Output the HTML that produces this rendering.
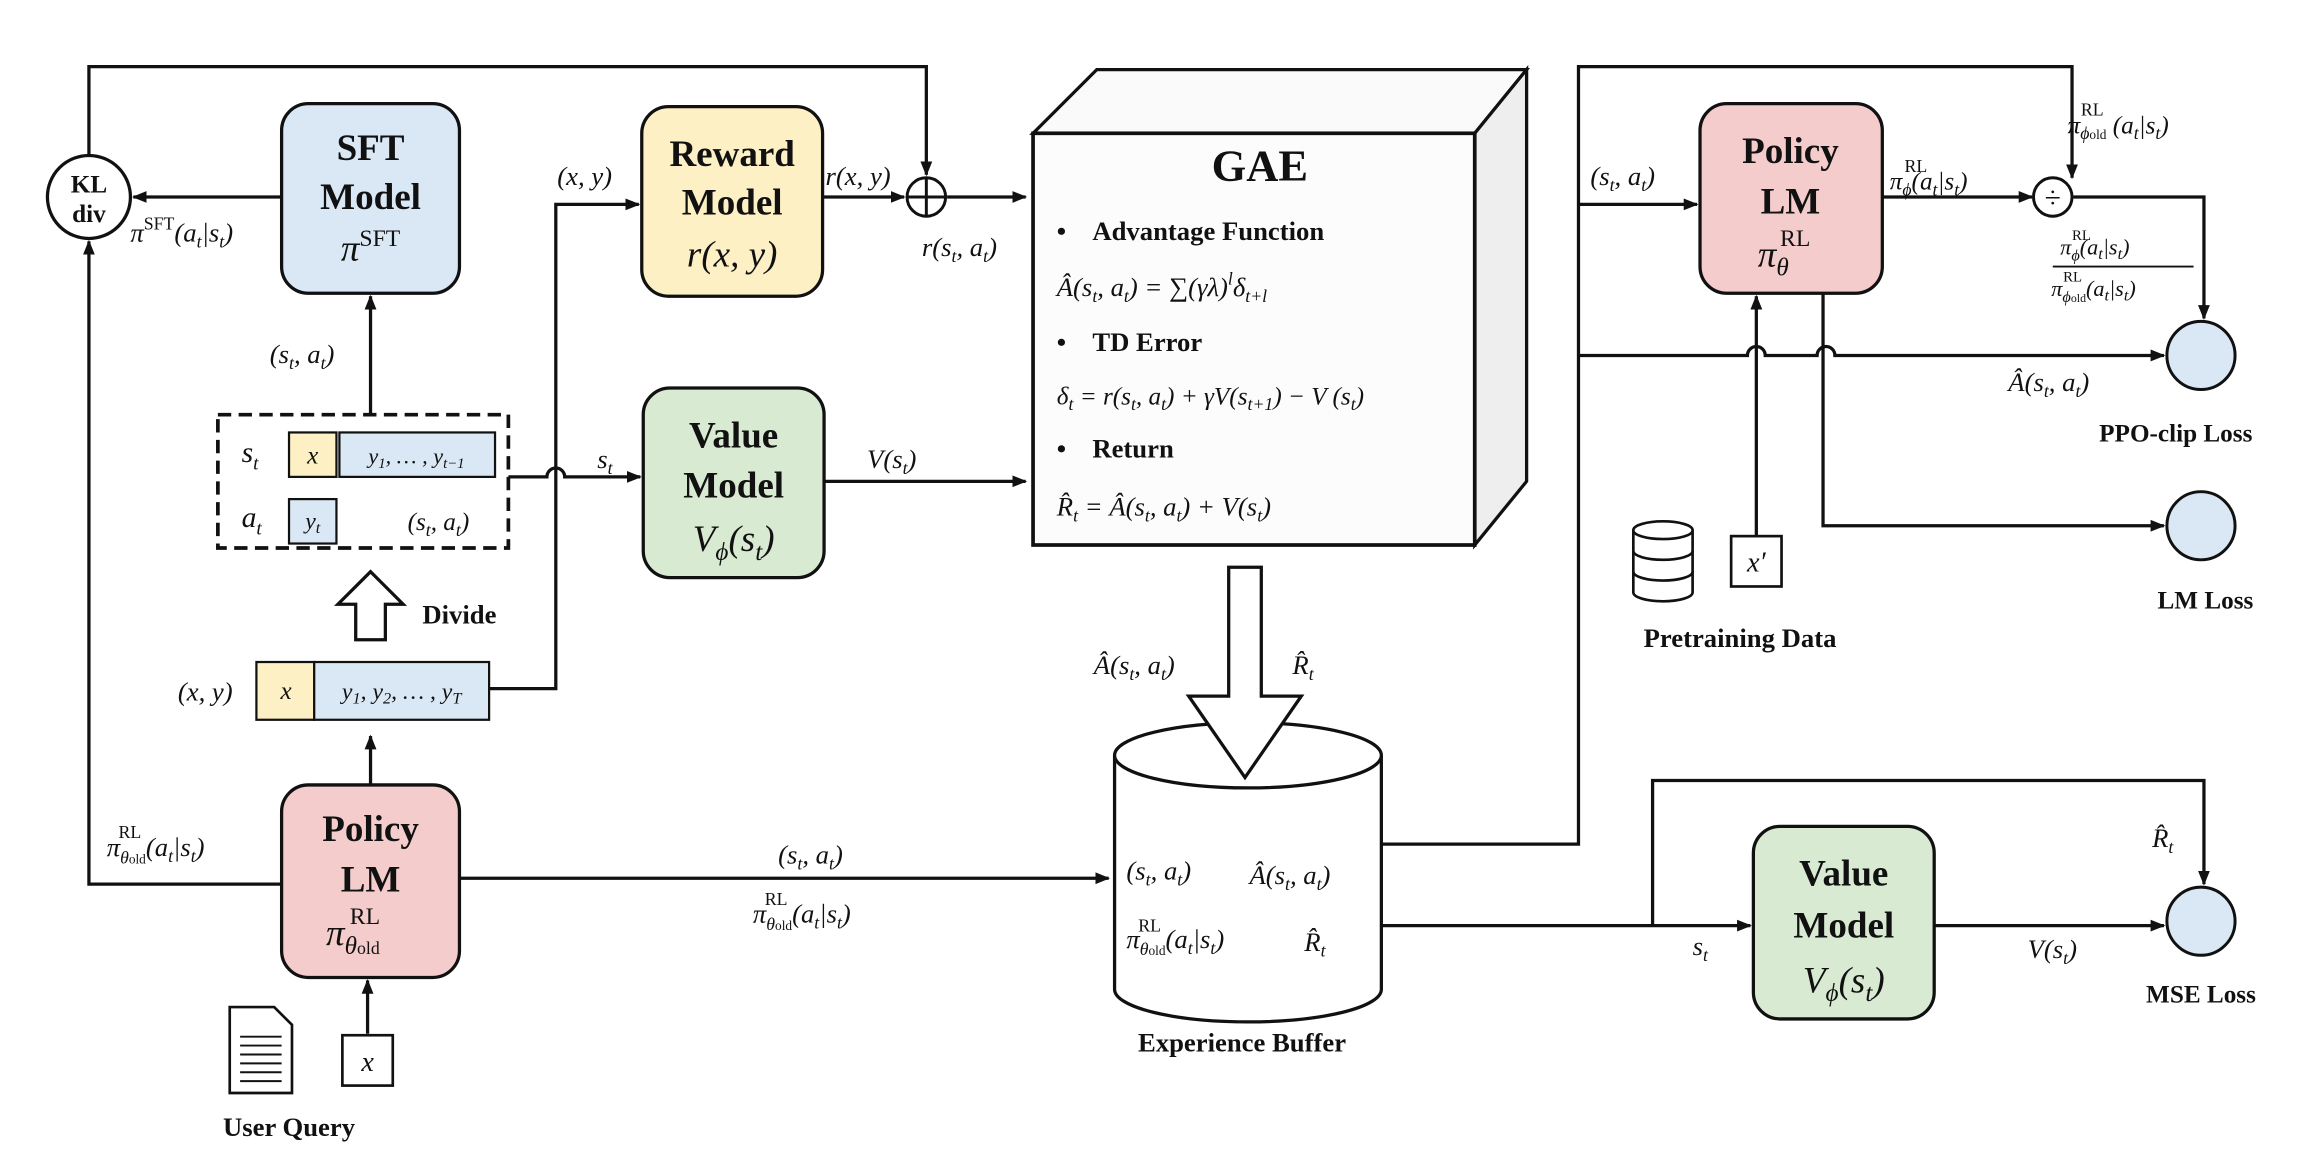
<!DOCTYPE html>
<html><head><meta charset="utf-8"><style>
html,body{margin:0;padding:0;background:#fff;width:2324px;height:1170px;overflow:hidden}
svg{display:block}
text{font-family:"Liberation Serif",serif;fill:#111}
.b{font-weight:bold}
.i{font-style:italic}
.n{font-style:normal}
</style></head><body>
<svg width="2324" height="1170" viewBox="0 0 1568 790" preserveAspectRatio="none" xmlns="http://www.w3.org/2000/svg">
<defs>
<marker id="a" markerWidth="10" markerHeight="10" refX="9" refY="5" orient="auto" markerUnits="userSpaceOnUse"><path d="M0,1 L10,5 L0,9 Z" fill="#111"/></marker>
</defs>
<g fill="none" stroke="#111" stroke-width="2.2">
<path d="M60,105 V45 H625 V118" marker-end="url(#a)"/>
<path d="M190,133 H90" marker-end="url(#a)"/>
<path d="M190,597 H60 V163" marker-end="url(#a)"/>
<path d="M250,280 V200" marker-end="url(#a)"/>
<path d="M250,530 V497" marker-end="url(#a)"/>
<path d="M330,465 H375 V138 H431" marker-end="url(#a)"/>
<path d="M343,322 H369 A6,6 0 0 1 381,322 H432" marker-end="url(#a)"/>
<path d="M555,133 H610" marker-end="url(#a)"/>
<path d="M639,133 H692" marker-end="url(#a)"/>
<path d="M556,325 H692" marker-end="url(#a)"/>
<path d="M310,593 H748" marker-end="url(#a)"/>
<path d="M932,570 H1065 V45 H1398 V120" marker-end="url(#a)"/>
<path d="M1065,138 H1145" marker-end="url(#a)"/>
<path d="M1065,240 H1179 A6,6 0 0 1 1191,240 H1226 A6,6 0 0 1 1238,240 H1460" marker-end="url(#a)"/>
<path d="M1270,133 H1371" marker-end="url(#a)"/>
<path d="M1399,133 H1487 V215" marker-end="url(#a)"/>
<path d="M1230,198 V355 H1460" marker-end="url(#a)"/>
<path d="M1185,362 V200" marker-end="url(#a)"/>
<path d="M932,625 H1181" marker-end="url(#a)"/>
<path d="M1115,625 V527 H1487 V597" marker-end="url(#a)"/>
<path d="M1305,625 H1460" marker-end="url(#a)"/>
<path d="M248,698 V662" marker-end="url(#a)"/>
</g>
<circle cx="60" cy="133" r="28" fill="#fff" stroke="#111" stroke-width="2.2"/>
<text x="60" y="130" text-anchor="middle" class="b" font-size="17">KL</text>
<text x="60" y="150" text-anchor="middle" class="b" font-size="17">div</text>
<g stroke="#111" stroke-width="2.2">
<rect x="190" y="70" width="120" height="128" rx="18" fill="#dae8f5"/>
<rect x="433" y="72" width="122" height="128" rx="18" fill="#fdf0c4"/>
<rect x="434" y="262" width="122" height="128" rx="18" fill="#d9ead3"/>
<rect x="1147" y="70" width="123" height="128" rx="18" fill="#f4cccc"/>
<rect x="190" y="530" width="120" height="130" rx="18" fill="#f4cccc"/>
<rect x="1183" y="558" width="122" height="130" rx="18" fill="#d9ead3"/>
</g>
<text x="250" y="108" text-anchor="middle" class="b" font-size="25">SFT</text>
<text x="250" y="141" text-anchor="middle" class="b" font-size="25">Model</text>
<text x="250" y="176" text-anchor="middle" class="i" font-size="25">π<tspan font-size="16" dy="-10" class="n">SFT</tspan></text>
<text x="494" y="112" text-anchor="middle" class="b" font-size="25">Reward</text>
<text x="494" y="145" text-anchor="middle" class="b" font-size="25">Model</text>
<text x="494" y="180" text-anchor="middle" class="i" font-size="25">r(x, y)</text>
<text x="495" y="302" text-anchor="middle" class="b" font-size="25">Value</text>
<text x="495" y="336" text-anchor="middle" class="b" font-size="25">Model</text>
<text x="495" y="372" text-anchor="middle" class="i" font-size="25">V<tspan font-size="17" dy="6">ϕ</tspan><tspan dy="-6">(s</tspan><tspan font-size="17" dy="6">t</tspan><tspan dy="-6">)</tspan></text>
<text x="1208" y="110" text-anchor="middle" class="b" font-size="25">Policy</text>
<text x="1208" y="144" text-anchor="middle" class="b" font-size="25">LM</text>
<text x="1186" y="180" class="i" font-size="25">π<tspan font-size="17" dy="6">θ</tspan></text>
<text x="1201" y="166" class="n" font-size="16">RL</text>
<text x="250" y="568" text-anchor="middle" class="b" font-size="25">Policy</text>
<text x="250" y="602" text-anchor="middle" class="b" font-size="25">LM</text>
<text x="220" y="638" class="i" font-size="25">π<tspan font-size="17" dy="6">θ<tspan font-size="12" class="n">old</tspan></tspan></text>
<text x="236" y="624" class="n" font-size="16">RL</text>
<text x="1244" y="598" text-anchor="middle" class="b" font-size="25">Value</text>
<text x="1244" y="633" text-anchor="middle" class="b" font-size="25">Model</text>
<text x="1244" y="670" text-anchor="middle" class="i" font-size="25">V<tspan font-size="17" dy="6">ϕ</tspan><tspan dy="-6">(s</tspan><tspan font-size="17" dy="6">t</tspan><tspan dy="-6">)</tspan></text>
<circle cx="625" cy="133" r="13" fill="#fff" stroke="#111" stroke-width="2"/>
<path d="M612,133 H638 M625,120 V146" stroke="#111" stroke-width="2"/>
<circle cx="1385" cy="133" r="13" fill="#fff" stroke="#111" stroke-width="2"/>
<text x="1385" y="140" text-anchor="middle" font-size="20">÷</text>
<path d="M697,90 L740,47 L1030,47 L995,90 Z" fill="#fafafa" stroke="#111" stroke-width="2.2"/>
<path d="M995,90 L1030,47 L1030,325 L995,368 Z" fill="#eee" stroke="#111" stroke-width="2.2"/>
<rect x="697" y="90" width="298" height="278" fill="#fcfcfc" stroke="#111" stroke-width="2.5"/>
<text x="850" y="122" text-anchor="middle" class="b" font-size="30">GAE</text>
<text x="713" y="162" class="b" font-size="18">•<tspan x="737">Advantage Function</tspan></text>
<text x="713" y="200" class="i" font-size="18">Â(s<tspan font-size="12" dy="4">t</tspan><tspan dy="-4">, a</tspan><tspan font-size="12" dy="4">t</tspan><tspan dy="-4">) = ∑(γλ)</tspan><tspan font-size="12" dy="-8">l</tspan><tspan dy="8">δ</tspan><tspan font-size="12" dy="4">t+l</tspan></text>
<text x="713" y="237" class="b" font-size="18">•<tspan x="737">TD Error</tspan></text>
<text x="713" y="273" class="i" font-size="17">δ<tspan font-size="12" dy="4">t</tspan><tspan dy="-4"> = r(s</tspan><tspan font-size="12" dy="4">t</tspan><tspan dy="-4">, a</tspan><tspan font-size="12" dy="4">t</tspan><tspan dy="-4">) + γV(s</tspan><tspan font-size="12" dy="4">t+1</tspan><tspan dy="-4">) − V (s</tspan><tspan font-size="12" dy="4">t</tspan><tspan dy="-4">)</tspan></text>
<text x="713" y="309" class="b" font-size="18">•<tspan x="737">Return</tspan></text>
<text x="713" y="348" class="i" font-size="18">R̂<tspan font-size="12" dy="4">t</tspan><tspan dy="-4"> = Â(s</tspan><tspan font-size="12" dy="4">t</tspan><tspan dy="-4">, a</tspan><tspan font-size="12" dy="4">t</tspan><tspan dy="-4">) + V(s</tspan><tspan font-size="12" dy="4">t</tspan><tspan dy="-4">)</tspan></text>
<!-- cylinder -->
<path d="M752,510 V668 A90,22 0 0 0 932,668 V510" fill="#fff" stroke="#111" stroke-width="2.2"/>
<ellipse cx="842" cy="510" rx="90" ry="22" fill="#fff" stroke="#111" stroke-width="2.2"/>
<path d="M829,383 H851 V470 H878 L840,525 L802,470 H829 Z" fill="#fff" stroke="#111" stroke-width="2.2"/>
<path d="M240,432 V408 H228 L250,386 L272,408 H260 V432 Z" fill="#fff" stroke="#111" stroke-width="2.2"/>
<text x="285" y="421" class="b" font-size="18">Divide</text>
<text x="838" y="710" text-anchor="middle" class="b" font-size="18">Experience Buffer</text>
<text x="760" y="594" class="i" font-size="18">(s<tspan font-size="12" dy="4">t</tspan><tspan dy="-4">, a</tspan><tspan font-size="12" dy="4">t</tspan><tspan dy="-4">)</tspan></text>
<text x="843" y="597" class="i" font-size="18">Â(s<tspan font-size="12" dy="4">t</tspan><tspan dy="-4">, a</tspan><tspan font-size="12" dy="4">t</tspan><tspan dy="-4">)</tspan></text>
<text x="760" y="640" class="i" font-size="18">π<tspan font-size="12" dy="5">θ<tspan font-size="9" class="n">old</tspan></tspan><tspan dy="-5">(a</tspan><tspan font-size="12" dy="4">t</tspan><tspan dy="-4">|s</tspan><tspan font-size="12" dy="4">t</tspan><tspan dy="-4">)</tspan></text>
<text x="768" y="629" class="n" font-size="12">RL</text>
<text x="880" y="642" class="i" font-size="18">R̂<tspan font-size="12" dy="4">t</tspan></text>
<rect x="147" y="280" width="196" height="90" fill="none" stroke="#111" stroke-width="2.5" stroke-dasharray="9,5"/>
<text x="163" y="312" class="i" font-size="20">s<tspan font-size="13" dy="5">t</tspan></text>
<rect x="195" y="292" width="32" height="30" fill="#fdf0c4" stroke="#111" stroke-width="1.5"/>
<text x="211" y="313" text-anchor="middle" class="i" font-size="17">x</text>
<rect x="229" y="292" width="105" height="30" fill="#dae8f5" stroke="#111" stroke-width="1.5"/>
<text x="281" y="313" text-anchor="middle" class="i" font-size="15">y<tspan font-size="10" dy="3">1</tspan><tspan dy="-3">, … , y</tspan><tspan font-size="10" dy="3">t−1</tspan></text>
<text x="163" y="356" class="i" font-size="20">a<tspan font-size="13" dy="5">t</tspan></text>
<rect x="195" y="337" width="32" height="30" fill="#dae8f5" stroke="#111" stroke-width="1.5"/>
<text x="211" y="357" text-anchor="middle" class="i" font-size="16">y<tspan font-size="11" dy="3">t</tspan></text>
<text x="275" y="358" class="i" font-size="17">(s<tspan font-size="12" dy="4">t</tspan><tspan dy="-4">, a</tspan><tspan font-size="12" dy="4">t</tspan><tspan dy="-4">)</tspan></text>
<text x="120" y="473" class="i" font-size="18">(x, y)</text>
<rect x="173" y="447" width="39" height="39" fill="#fdf0c4" stroke="#111" stroke-width="1.5"/>
<text x="193" y="472" text-anchor="middle" class="i" font-size="17">x</text>
<rect x="212" y="447" width="118" height="39" fill="#dae8f5" stroke="#111" stroke-width="1.5"/>
<text x="271" y="472" text-anchor="middle" class="i" font-size="16">y<tspan font-size="11" dy="3">1</tspan><tspan dy="-3">, y</tspan><tspan font-size="11" dy="3">2</tspan><tspan dy="-3">, … , y</tspan><tspan font-size="11" dy="3">T</tspan></text>
<text x="88" y="163" class="i" font-size="18">π<tspan font-size="12" dy="-8" class="n">SFT</tspan><tspan dy="8">(a</tspan><tspan font-size="12" dy="4">t</tspan><tspan dy="-4">|s</tspan><tspan font-size="12" dy="4">t</tspan><tspan dy="-4">)</tspan></text>
<text x="182" y="245" class="i" font-size="18">(s<tspan font-size="12" dy="4">t</tspan><tspan dy="-4">, a</tspan><tspan font-size="12" dy="4">t</tspan><tspan dy="-4">)</tspan></text>
<text x="376" y="125" class="i" font-size="18">(x, y)</text>
<text x="403" y="316" class="i" font-size="18">s<tspan font-size="12" dy="4">t</tspan></text>
<text x="557" y="125" class="i" font-size="18">r(x, y)</text>
<text x="622" y="173" class="i" font-size="18">r(s<tspan font-size="12" dy="4">t</tspan><tspan dy="-4">, a</tspan><tspan font-size="12" dy="4">t</tspan><tspan dy="-4">)</tspan></text>
<text x="585" y="316" class="i" font-size="18">V(s<tspan font-size="12" dy="4">t</tspan><tspan dy="-4">)</tspan></text>
<text x="72" y="578" class="i" font-size="18">π<tspan font-size="12" dy="5">θ<tspan font-size="9" class="n">old</tspan></tspan><tspan dy="-5">(a</tspan><tspan font-size="12" dy="4">t</tspan><tspan dy="-4">|s</tspan><tspan font-size="12" dy="4">t</tspan><tspan dy="-4">)</tspan></text>
<text x="80" y="566" class="n" font-size="12">RL</text>
<text x="525" y="583" class="i" font-size="18">(s<tspan font-size="12" dy="4">t</tspan><tspan dy="-4">, a</tspan><tspan font-size="12" dy="4">t</tspan><tspan dy="-4">)</tspan></text>
<text x="508" y="623" class="i" font-size="18">π<tspan font-size="12" dy="5">θ<tspan font-size="9" class="n">old</tspan></tspan><tspan dy="-5">(a</tspan><tspan font-size="12" dy="4">t</tspan><tspan dy="-4">|s</tspan><tspan font-size="12" dy="4">t</tspan><tspan dy="-4">)</tspan></text>
<text x="516" y="611" class="n" font-size="12">RL</text>
<text x="738" y="455" class="i" font-size="18">Â(s<tspan font-size="12" dy="4">t</tspan><tspan dy="-4">, a</tspan><tspan font-size="12" dy="4">t</tspan><tspan dy="-4">)</tspan></text>
<text x="872" y="455" class="i" font-size="18">R̂<tspan font-size="12" dy="4">t</tspan></text>
<text x="1073" y="125" class="i" font-size="18">(s<tspan font-size="12" dy="4">t</tspan><tspan dy="-4">, a</tspan><tspan font-size="12" dy="4">t</tspan><tspan dy="-4">)</tspan></text>
<text x="1275" y="128" class="i" font-size="17">π<tspan font-size="12" dy="4">ϕ</tspan><tspan dy="-4">(a</tspan><tspan font-size="12" dy="4">t</tspan><tspan dy="-4">|s</tspan><tspan font-size="12" dy="4">t</tspan><tspan dy="-4">)</tspan></text>
<text x="1285" y="116" class="n" font-size="12">RL</text>
<text x="1395" y="90" class="i" font-size="17">π<tspan font-size="12" dy="4">ϕ<tspan font-size="9" class="n">old</tspan></tspan><tspan dy="-4"> (a</tspan><tspan font-size="12" dy="4">t</tspan><tspan dy="-4">|s</tspan><tspan font-size="12" dy="4">t</tspan><tspan dy="-4">)</tspan></text>
<text x="1404" y="78" class="n" font-size="12">RL</text>
<text x="1390" y="172" class="i" font-size="15">π<tspan font-size="11" dy="4">ϕ</tspan><tspan dy="-4">(a</tspan><tspan font-size="11" dy="3">t</tspan><tspan dy="-3">|s</tspan><tspan font-size="11" dy="3">t</tspan><tspan dy="-3">)</tspan></text>
<text x="1398" y="162" class="n" font-size="10">RL</text>
<line x1="1385" y1="180" x2="1480" y2="180" stroke="#111" stroke-width="1.3"/>
<text x="1384" y="200" class="i" font-size="15">π<tspan font-size="11" dy="4">ϕ<tspan font-size="8" class="n">old</tspan></tspan><tspan dy="-4">(a</tspan><tspan font-size="11" dy="3">t</tspan><tspan dy="-3">|s</tspan><tspan font-size="11" dy="3">t</tspan><tspan dy="-3">)</tspan></text>
<text x="1392" y="190" class="n" font-size="10">RL</text>
<text x="1355" y="264" class="i" font-size="18">Â(s<tspan font-size="12" dy="4">t</tspan><tspan dy="-4">, a</tspan><tspan font-size="12" dy="4">t</tspan><tspan dy="-4">)</tspan></text>
<text x="1142" y="645" class="i" font-size="18">s<tspan font-size="12" dy="4">t</tspan></text>
<text x="1368" y="647" class="i" font-size="18">V(s<tspan font-size="12" dy="4">t</tspan><tspan dy="-4">)</tspan></text>
<text x="1452" y="572" class="i" font-size="18">R̂<tspan font-size="12" dy="4">t</tspan></text>
<g fill="#dae8f5" stroke="#111" stroke-width="2">
<circle cx="1485" cy="240" r="23"/><circle cx="1485" cy="355" r="23"/><circle cx="1485" cy="622" r="23"/>
</g>
<text x="1468" y="298" text-anchor="middle" class="b" font-size="17">PPO-clip Loss</text>
<text x="1488" y="411" text-anchor="middle" class="b" font-size="17">LM Loss</text>
<text x="1485" y="677" text-anchor="middle" class="b" font-size="17">MSE Loss</text>
<g fill="#fff" stroke="#111" stroke-width="1.8">
<path d="M1102,358 V400 A20,6 0 0 0 1142,400 V358"/>
<ellipse cx="1122" cy="358" rx="20" ry="6"/>
<path d="M1102,372 A20,6 0 0 0 1142,372 M1102,386 A20,6 0 0 0 1142,386" fill="none"/>
</g>
<rect x="1168" y="362" width="34" height="34" fill="#fff" stroke="#111" stroke-width="1.8"/>
<text x="1185" y="386" text-anchor="middle" class="i" font-size="19">x′</text>
<text x="1174" y="437" text-anchor="middle" class="b" font-size="18">Pretraining Data</text>
<path d="M155,680 H185 L197,692 V738 H155 Z" fill="#fff" stroke="#111" stroke-width="1.8"/>
<path d="M162,700 H190 M162,706 H190 M162,712 H190 M162,718 H190 M162,724 H190 M162,730 H190" stroke="#111" stroke-width="1.3"/>
<rect x="231" y="699" width="34" height="34" fill="#fff" stroke="#111" stroke-width="1.8"/>
<text x="248" y="723" text-anchor="middle" class="i" font-size="19">x</text>
<text x="195" y="767" text-anchor="middle" class="b" font-size="18">User Query</text>
</svg>
</body></html>
